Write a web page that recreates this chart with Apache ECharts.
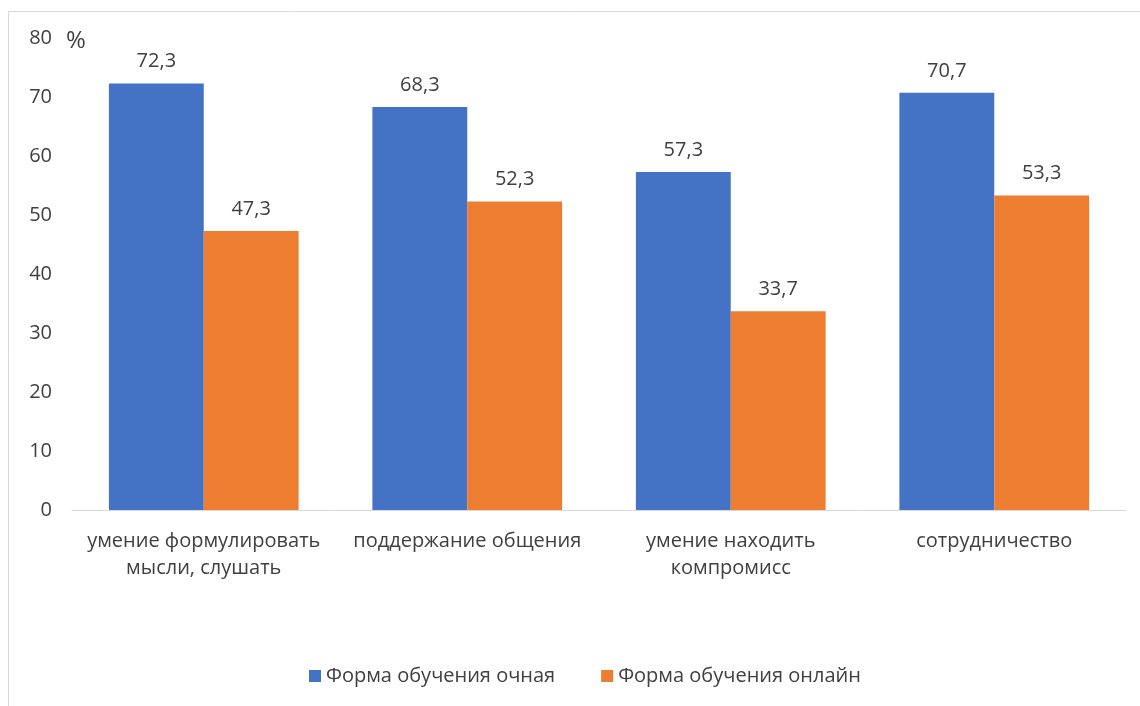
<!DOCTYPE html>
<html>
<head>
<meta charset="utf-8">
<script src="https://cdn.jsdelivr.net/npm/echarts@6/dist/echarts.min.js"></script>
<style>
html,body{margin:0;padding:0;background:#fff;}
#c{width:1140px;height:706px;}
</style>
</head>
<body>
<div id="c"></div>
<script>
const categories = ["умение формулировать\nмысли, слушать", "поддержание общения", "умение находить\nкомпромисс", "сотрудничество"];
const seriesNames = ["Форма обучения очная", "Форма обучения онлайн"];
const fullTime = [72.3, 68.3, 57.3, 70.7];
const online = [47.3, 52.3, 33.7, 53.3];
const yTicks = [0, 10, 20, 30, 40, 50, 60, 70, 80];

const FONT = "Open Sans";
const TXT = "#404040";
const FS = 20;
const chart = echarts.init(document.getElementById('c'), null, {renderer: 'canvas'});
const labelFmt = p => String(p.value).replace('.', ',');
chart.setOption({
  animation: false,
  backgroundColor: '#fff',
  textStyle: {fontFamily: FONT},
  grid: {left: 72, right: 14, top: 38, bottom: 196, containLabel: false},
  legend: {
    data: seriesNames,
    bottom: 15,
    left: 304,
    itemWidth: 12, itemHeight: 12, itemGap: 46,
    icon: 'rect',
    textStyle: {fontFamily: FONT, fontSize: FS, color: TXT}
  },
  xAxis: {
    type: 'category',
    data: categories,
    axisLine: {lineStyle: {color: '#d9d9d9', width: 1}},
    axisTick: {show: false},
    axisLabel: {fontFamily: FONT, fontSize: FS, color: TXT, margin: 18, lineHeight: 27, interval: 0}
  },
  yAxis: {
    type: 'value',
    min: yTicks[0], max: yTicks[yTicks.length - 1], interval: 10,
    axisLine: {show: false},
    axisTick: {show: false},
    splitLine: {show: false},
    axisLabel: {fontFamily: FONT, fontSize: FS, color: TXT, margin: 20}
  },
  series: [
    {
      name: seriesNames[0], type: 'bar', data: fullTime,
      barGap: '0%', barCategoryGap: '28%',
      itemStyle: {color: '#4472c4'},
      label: {show: true, position: 'top', distance: 12, fontFamily: FONT, fontSize: FS, color: TXT, formatter: labelFmt}
    },
    {
      name: seriesNames[1], type: 'bar', data: online,
      barGap: '0%', barCategoryGap: '28%',
      itemStyle: {color: '#ed7d31'},
      label: {show: true, position: 'top', distance: 12, fontFamily: FONT, fontSize: FS, color: TXT, formatter: labelFmt}
    }
  ],
  graphic: [
    {type: 'rect', shape: {x: 8.5, y: 11.5, width: 1200, height: 800}, style: {fill: 'none', stroke: '#d9d9d9', lineWidth: 1}, z: -1},
    {type: 'text', left: 66, top: 29, style: {text: '%', fontFamily: FONT, fontSize: 24, fill: TXT}}
  ]
});
</script>
</body>
</html>
